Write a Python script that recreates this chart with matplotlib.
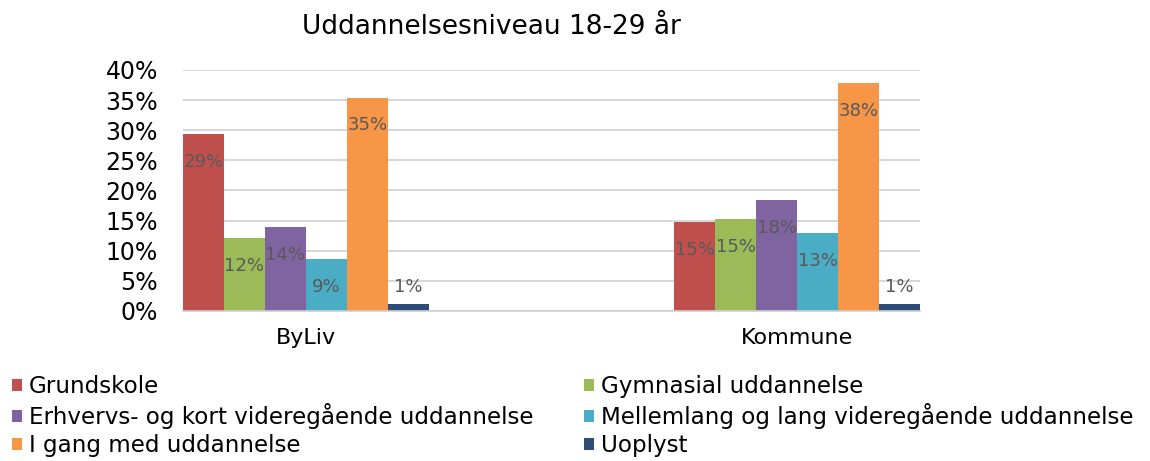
import numpy as np
import matplotlib.pyplot as plt

plt.rcParams['font.family'] = ['DejaVu Sans']

# data
groups = ['ByLiv', 'Kommune']
series = ['Grundskole', 'Gymnasial uddannelse',
          'Erhvervs- og kort videregående uddannelse',
          'Mellemlang og lang videregående uddannelse',
          'I gang med uddannelse', 'Uoplyst']
byliv = [29.3, 12.1, 13.9, 8.6, 35.4, 1.2]
kommune = [14.8, 15.3, 18.4, 12.9, 37.8, 1.2]
colors = ['#C0504D', '#9BBB59', '#8064A2', '#4BACC6', '#F79646', '#2C4D75']

values = np.array([byliv, kommune]) / 100.0

fig = plt.figure(figsize=(11.5, 4.61), dpi=100)
ax = fig.add_axes([183/1150, 1 - 311/461, 737/1150, 241/461])

w = 0.0835
x = np.arange(len(groups))
bars = []
for i, name in enumerate(series):
    b = ax.bar(x + (i - 2.5) * w, values[:, i], w, color=colors[i], label=name)
    bars.append(b)
    for rect, v in zip(b, values[:, i]):
        cx = rect.get_x() + rect.get_width() / 2
        if v < 0.03:
            off = 12
        else:
            off = -20
        ax.annotate('%d%%' % round(v * 100), (cx, v), xytext=(0, off),
                    textcoords='offset points', ha='center', va='center',
                    color='#595959', fontsize=13)

ax.set_xlim(-3 * w, 1 + 3 * w)
ax.set_ylim(0, 0.40)
ax.set_yticks(np.arange(0, 0.41, 0.05))
ax.set_yticklabels(['%d%%' % t for t in range(0, 41, 5)])
ax.set_xticks(x)
ax.set_xticklabels(groups)
ax.tick_params(axis='y', length=0, labelsize=17, pad=18)
ax.tick_params(axis='x', length=0, labelsize=16, pad=12)
ax.yaxis.grid(True, color='#D0D0D0', linewidth=1.2)
ax.set_axisbelow(True)
for s in ['top', 'right', 'left']:
    ax.spines[s].set_visible(False)
ax.spines['bottom'].set_color('#D0D0D0')
ax.spines['bottom'].set_linewidth(1.2)

fig.text(491/1150, 1 - 27/461, 'Uddannelsesniveau 18-29 år', ha='center',
         va='center', fontsize=19)

# legend row-wise like excel
order = [0, 2, 4, 1, 3, 5]
handles = [bars[i] for i in order]
labels = [series[i] for i in order]
fig.legend(handles, labels, ncol=2, loc='lower left',
           bbox_to_anchor=(0.002, -0.012), frameon=False, fontsize=16.6,
           handlelength=0.45, handleheight=0.45, handletextpad=0.3,
           columnspacing=2.2, labelspacing=0.22, borderaxespad=0)

fig.savefig('out.png', dpi=100)
